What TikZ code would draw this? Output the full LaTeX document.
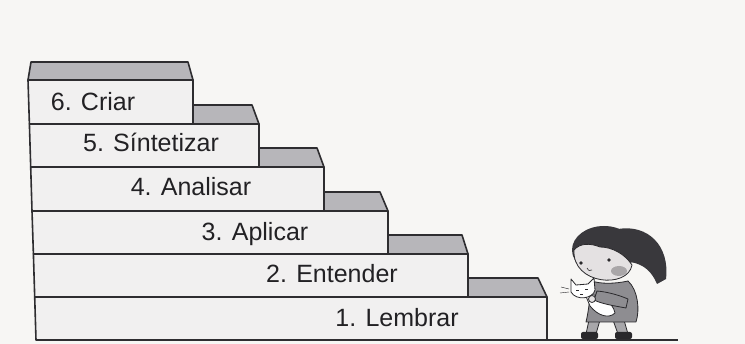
\documentclass[tikz,border=0pt]{standalone}
\usepackage{fontspec}
\setmainfont{Liberation Sans}
\definecolor{bgc}{HTML}{F7F6F4}
\definecolor{frontc}{HTML}{F1F0F0}
\definecolor{topc}{HTML}{B7B6BA}
\definecolor{linec}{HTML}{2E2D30}
\definecolor{textc}{HTML}{222124}
\definecolor{hairc}{HTML}{39383C}
\definecolor{skinc}{HTML}{E4E1E2}
\definecolor{cheekc}{HTML}{A9A6A8}
\definecolor{dressc}{HTML}{8E8D91}
\definecolor{legc}{HTML}{A8A7AA}
\definecolor{inkc}{HTML}{2A292C}
\begin{document}
\begin{tikzpicture}[x=1pt,y=-1pt,line join=round,
  edge/.style={draw=linec,line width=1.6pt},
  frontface/.style={edge,fill=frontc},
  topface/.style={edge,fill=topc},
  steplabel/.style={font=\fontsize{25}{25}\selectfont,text=textc,anchor=base,inner sep=0pt},
  ink/.style={draw=inkc,line width=0.8pt}]
\fill[bgc] (0,0) rectangle (745,344);
\useasboundingbox (0,0) rectangle (745,344);

% staircase: each step is a front face plus a grey tread behind it
% step 6
\draw[topface]   (31,62) -- (188,62) -- (193,80) -- (28,80) -- cycle;
\draw[frontface] (28,80) -- (193,80) -- (193,124) -- (29.4,124) -- cycle;
% step 5
\draw[topface]   (193,105) -- (252,105) -- (259,124) -- (193,124) -- cycle;
\draw[frontface] (29.4,124) -- (259,124) -- (259,167) -- (30.7,167) -- cycle;
% step 4
\draw[topface]   (259,148) -- (317,148) -- (324,167) -- (259,167) -- cycle;
\draw[frontface] (30.7,167) -- (324,167) -- (324,211) -- (32,211) -- cycle;
% step 3
\draw[topface]   (324,192) -- (380,192) -- (388,211) -- (324,211) -- cycle;
\draw[frontface] (32,211) -- (388,211) -- (388,254) -- (33.4,254) -- cycle;
% step 2
\draw[topface]   (388,235) -- (462,235) -- (468,254) -- (388,254) -- cycle;
\draw[frontface] (33.4,254) -- (468,254) -- (468,297) -- (34.7,297) -- cycle;
% step 1
\draw[topface]   (468,278) -- (538,278) -- (547,297) -- (468,297) -- cycle;
\draw[frontface] (34.7,297) -- (547,297) -- (547,340) -- (36,340) -- cycle;

% ground line
\coordinate (g0) at (36,340);
\coordinate (g1) at (678,340);
\draw[edge] (g0) -- (g1);

% step labels
\node[steplabel] (s6) at (93,111) {6. Criar};
\node[steplabel] (s5) at (151,152) {5. Síntetizar};
\node[steplabel] (s4) at (191,196) {4. Analisar};
\node[steplabel] (s3) at (255,241) {3. Aplicar};
\node[steplabel] (s2) at (332,283) {2. Entender};
\node[steplabel] (s1) at (397,327) {1. Lembrar};

% girl holding a cat
% ponytail
\fill[hairc] (618,229) .. controls (648,224) and (670,246) .. (666,279)
  -- (657,284) .. controls (652,272) and (644,264) .. (630,262) -- cycle;
% hair
\fill[hairc] (604,250) ellipse [x radius=32, y radius=24];
% face below the fringe
\filldraw[ink,fill=skinc] (574,250) .. controls (572,285) and (628,289) .. (632,265)
  .. controls (625,254) and (612,247) .. (600,247)
  .. controls (590,243) and (580,243) .. (574,250) -- cycle;
\fill[cheekc] (619,271) ellipse [x radius=8, y radius=5];
\fill[inkc] (581,263) circle [radius=1.8];
\fill[inkc] (609,260) circle [radius=1.8];
\draw[inkc,line width=0.6pt] (587,268) .. controls (589,271) .. (592,270);
% legs and shoes
\filldraw[ink,fill=legc] (589,320) -- (586,334) -- (596,334) -- (600,320) -- cycle;
\filldraw[ink,fill=legc] (613,320) -- (618,334) -- (628,334) -- (624,320) -- cycle;
\fill[inkc,rounded corners=2pt] (581,332) rectangle (598,339);
\fill[inkc,rounded corners=2pt] (615,332) rectangle (632,339);
% dress
\filldraw[ink,fill=dressc] (592,281) .. controls (600,284) and (615,284) .. (628,281)
  .. controls (638,290) and (640,310) .. (636,322) -- (586,322)
  .. controls (589,310) and (590,295) .. (592,281) -- cycle;
% cat
\filldraw[ink,fill=white] (585,294) .. controls (600,294) and (613,302) .. (615,313)
  .. controls (609,319) and (598,316) .. (590,306) -- cycle;
\filldraw[ink,fill=white] (571,279) -- (576,285) -- (588,284) -- (594,278)
  -- (595,290) .. controls (593,299) and (576,301) .. (571,292) -- cycle;
\draw[inkc,line width=0.5pt] (576,290) -- (579,290) (585,289) -- (588,289)
  (580,294) -- (583,294);
\draw[inkc,line width=0.4pt] (569,289) -- (561,287) (569,292) -- (560,293);
% arm around the cat
\filldraw[ink,fill=dressc] (597,291) .. controls (609,292) and (621,296) .. (628,299)
  -- (626,308) .. controls (615,306) and (602,304) .. (594,300) -- cycle;
\filldraw[ink,fill=skinc] (592,299) circle [radius=3.5];
\end{tikzpicture}
\end{document}
